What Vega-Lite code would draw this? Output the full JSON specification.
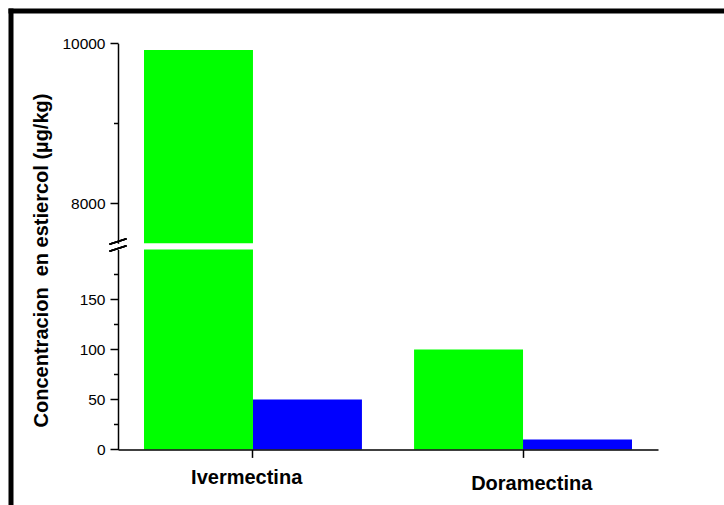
{
  "$schema": "https://vega.github.io/schema/vega-lite/v6.json",
  "width": 724,
  "height": 505,
  "autosize": "none",
  "padding": 0,
  "background": "white",
  "config": {
    "view": {"stroke": null},
    "font": "Liberation Sans",
    "axis": {"grid": false, "domainColor": "black", "tickColor": "black", "labelColor": "black", "titleColor": "black", "domainWidth": 1.5, "tickWidth": 1.5}
  },
  "data": {
    "values": [
      {"farmaco": "Ivermectina", "serie": "A", "concentracion": 9915},
      {"farmaco": "Ivermectina", "serie": "B", "concentracion": 50},
      {"farmaco": "Doramectina", "serie": "A", "concentracion": 100},
      {"farmaco": "Doramectina", "serie": "B", "concentracion": 10}
    ]
  },
  "resolve": {
    "scale": {"x": "independent", "y": "independent", "xOffset": "independent", "color": "independent"},
    "axis": {"x": "independent", "y": "independent"}
  },
  "layer": [
    {
      "mark": {"type": "bar"},
      "encoding": {
        "x": {
          "field": "farmaco", "type": "nominal",
          "scale": {"domain": ["Ivermectina", "Doramectina"], "range": [118, 658], "paddingInner": 0.193, "paddingOuter": 0.0963},
          "axis": {
            "orient": "bottom", "offset": -55.6, "title": null, "zindex": 1,
            "tickSize": 8,
            "labelFont": "Liberation Sans", "labelFontSize": 20, "labelFontWeight": "bold",
            "labelBaseline": "alphabetic", "labelAngle": 0,
            "labelPadding": {"condition": {"test": "datum.value === 'Doramectina'", "value": 31.9}, "value": 25.9},
            "labelOffset": {"condition": {"test": "datum.value === 'Doramectina'", "value": 8.7}, "value": -6.3}
          }
        },
        "xOffset": {"field": "serie", "type": "nominal", "scale": {"domain": ["A", "B"], "paddingInner": 0, "paddingOuter": 0}},
        "y": {
          "field": "concentracion", "type": "quantitative", "stack": null,
          "scale": {"domain": [0, 200], "range": [449.4, 249.4], "clamp": true, "nice": false, "zero": true},
          "axis": {
            "orient": "left", "offset": -118, "zindex": 1,
            "values": [0, 25, 50, 75, 100, 125, 150, 175],
            "labelExpr": "datum.value % 50 === 0 ? datum.label : ''",
            "tickSize": {"condition": {"test": "datum.value % 50 === 0", "value": 8}, "value": 4.5},
            "labelFont": "Liberation Sans", "labelFontSize": 15.5, "labelPadding": 5,
            "title": "Concentracion\u00a0 en estiercol (µg/kg)",
            "titleFont": "Liberation Sans", "titleFontSize": 20, "titleFontWeight": "bold",
            "titleAngle": 270, "titleAlign": "center", "titleBaseline": "alphabetic",
            "titleX": -70.3, "titleY": 260
          }
        },
        "color": {"field": "serie", "type": "nominal", "scale": {"domain": ["A", "B"], "range": ["#00ff00", "#0000ff"]}, "legend": null}
      }
    },
    {
      "transform": [{"filter": "datum.concentracion > 7500"}],
      "mark": {"type": "bar"},
      "encoding": {
        "x": {
          "field": "farmaco", "type": "nominal",
          "scale": {"domain": ["Ivermectina", "Doramectina"], "range": [118, 658], "paddingInner": 0.193, "paddingOuter": 0.0963},
          "axis": null
        },
        "xOffset": {"field": "serie", "type": "nominal", "scale": {"domain": ["A", "B"], "paddingInner": 0, "paddingOuter": 0}},
        "y": {
          "field": "concentracion", "type": "quantitative", "stack": null,
          "scale": {"domain": [7500, 10000], "range": [243.3, 43.3], "nice": false, "zero": false},
          "axis": {
            "orient": "left", "offset": -118, "zindex": 1,
            "values": [8000, 9000, 10000], "format": "d",
            "labelExpr": "datum.value % 2000 === 0 ? datum.label : ''",
            "tickSize": {"condition": {"test": "datum.value % 2000 === 0", "value": 8}, "value": 4.5},
            "labelFont": "Liberation Sans", "labelFontSize": 15.5, "labelPadding": 5,
            "title": null
          }
        },
        "y2": {"datum": 7500},
        "color": {"field": "serie", "type": "nominal", "scale": {"domain": ["A", "B"], "range": ["#00ff00", "#0000ff"]}, "legend": null}
      }
    },
    {
      "mark": {"type": "rule", "color": "black", "strokeWidth": 1.5},
      "encoding": {
        "x": {"datum": -0.0157, "type": "quantitative", "scale": {"domain": [0, 1], "range": [118, 658]}, "axis": null},
        "x2": {"datum": 0.0157},
        "y": {"datum": 7487.5, "type": "quantitative", "scale": {"domain": [7500, 10000], "range": [243.3, 43.3], "zero": false, "nice": false}, "axis": null},
        "y2": {"datum": 7557.5}
      }
    },
    {
      "mark": {"type": "rule", "color": "black", "strokeWidth": 1.5},
      "encoding": {
        "x": {"datum": -0.0157, "type": "quantitative", "scale": {"domain": [0, 1], "range": [118, 658]}, "axis": null},
        "x2": {"datum": 0.0157},
        "y": {"datum": 7400, "type": "quantitative", "scale": {"domain": [7500, 10000], "range": [243.3, 43.3], "zero": false, "nice": false}, "axis": null},
        "y2": {"datum": 7470}
      }
    },
    {
      "mark": {"type": "rule", "opacity": 0},
      "encoding": {
        "x": {
          "datum": 0, "type": "quantitative",
          "scale": {"domain": [0, 1], "range": [8, 740]},
          "axis": {"orient": "top", "offset": -10.5, "domainWidth": 5, "domainColor": "black", "ticks": false, "labels": false, "title": null, "grid": false}
        },
        "y": {
          "datum": 0, "type": "quantitative",
          "scale": {"domain": [0, 1], "range": [8, 520]},
          "axis": {"orient": "left", "offset": -10.5, "domainWidth": 5, "domainColor": "black", "ticks": false, "labels": false, "title": null, "grid": false}
        }
      }
    }
  ]
}
